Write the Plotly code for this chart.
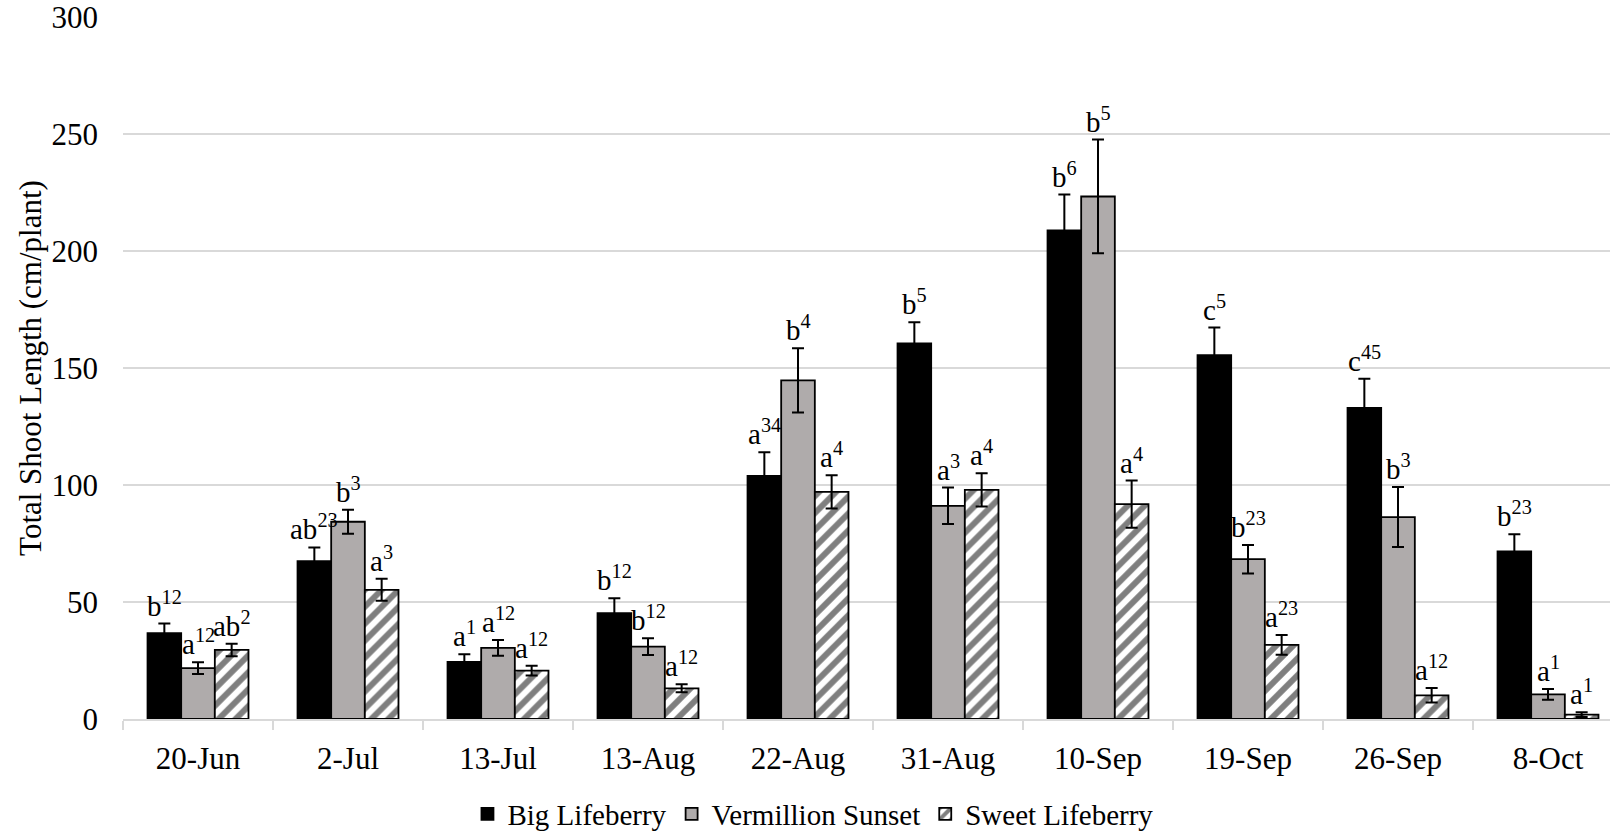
import plotly.graph_objects as go

dates = ["20-Jun", "2-Jul", "13-Jul", "13-Aug", "22-Aug", "31-Aug", "10-Sep", "19-Sep", "26-Sep", "8-Oct"]

big_mean = [36.7, 67.5, 24.4, 45.2, 103.9, 160.5, 208.8, 155.5, 133.0, 71.6]
big_err = [4.1, 5.8, 3.3, 6.4, 10.1, 9.1, 15.3, 11.8, 12.4, 7.4]
big_lab = ["b<sup>12</sup>", "ab<sup>23</sup>", "a<sup>1</sup>", "b<sup>12</sup>", "a<sup>34</sup>",
           "b<sup>5</sup>", "b<sup>6</sup>", "c<sup>5</sup>", "c<sup>45</sup>", "b<sup>23</sup>"]

ver_mean = [21.7, 84.3, 30.4, 30.9, 144.7, 91.1, 223.3, 68.3, 86.3, 10.5]
ver_err = [2.5, 5.1, 3.4, 3.6, 13.7, 7.8, 24.3, 6.1, 12.8, 2.3]
ver_lab = ["a<sup>12</sup>", "b<sup>3</sup>", "a<sup>12</sup>", "b<sup>12</sup>", "b<sup>4</sup>",
           "a<sup>3</sup>", "b<sup>5</sup>", "b<sup>23</sup>", "b<sup>3</sup>", "a<sup>1</sup>"]

swe_mean = [29.5, 55.2, 20.7, 13.1, 97.1, 97.9, 91.8, 31.7, 10.1, 1.9]
swe_err = [2.7, 4.7, 2.1, 1.7, 7.1, 7.1, 10.1, 4.2, 3.1, 1.0]
swe_lab = ["ab<sup>2</sup>", "a<sup>3</sup>", "a<sup>12</sup>", "a<sup>12</sup>", "a<sup>4</sup>",
           "a<sup>4</sup>", "a<sup>4</sup>", "a<sup>23</sup>", "a<sup>12</sup>", "a<sup>1</sup>"]

series = [
    ("Big Lifeberry", big_mean, big_err, big_lab, "#000000", None),
    ("Vermillion Sunset", ver_mean, ver_err, ver_lab, "#AFABAB", None),
    ("Sweet Lifeberry", swe_mean, swe_err, swe_lab, "#FFFFFF", "/"),
]

FONT = "Liberation Serif"
FS = 31
BARGAP = 0.327

fig = go.Figure()
for name, m, e, lab, col, pat in series:
    marker = dict(color=col, line=dict(color="#000000", width=1.8))
    if pat:
        marker["pattern"] = dict(shape=pat, fgcolor="#000000", bgcolor="#FFFFFF",
                                 size=12, solidity=0.5, fillmode="overlay")
    fig.add_trace(go.Bar(
        name=name, x=dates, y=m, marker=marker,
        error_y=dict(type="data", array=e, visible=True, color="#000000",
                     thickness=2, width=6),
    ))

bw = (1 - BARGAP) / 3
annotations = []
for j, (name, m, e, lab, col, pat) in enumerate(series):
    for i in range(len(dates)):
        annotations.append(dict(
            x=i + (j - 1) * bw, y=m[i] + e[i], xref="x", yref="y",
            text=lab[i], showarrow=False, yanchor="bottom", xanchor="center",
            yshift=0, font=dict(family=FONT, size=29, color="#000000"),
        ))

fig.update_layout(
    width=1610, height=834,
    margin=dict(l=123, r=0, t=17, b=115, autoexpand=False),
    barmode="group", bargap=BARGAP, bargroupgap=0,
    plot_bgcolor="#FFFFFF", paper_bgcolor="#FFFFFF",
    font=dict(family=FONT, size=FS, color="#000000"),
    showlegend=True,
    legend=dict(orientation="h", x=0.464, xanchor="center",
                yref="container", y=0.024, yanchor="middle",
                font=dict(family=FONT, size=29, color="#000000"),
                itemwidth=30, traceorder="normal"),
    annotations=annotations,
)
fig.update_xaxes(
    type="category", range=[-0.5, 9.4133], automargin=False,
    showline=True, linecolor="#D9D9D9", linewidth=1.5,
    ticks="outside", tickson="boundaries", ticklen=9, tickcolor="#D9D9D9", tickwidth=1.5,
    ticklabelstandoff=11,
    tickfont=dict(family=FONT, size=FS, color="#000000"),
    showgrid=False,
)
fig.update_yaxes(
    range=[0, 300], dtick=50, tick0=0, automargin=False,
    showgrid=True, gridcolor="#D9D9D9", gridwidth=1.5,
    zeroline=False, showline=False, ticks="",
    ticklabelstandoff=24, ticklabeloverflow="allow",
    tickfont=dict(family=FONT, size=FS, color="#000000"),
    title=dict(text="Total Shoot Length (cm/plant)", standoff=0,
               font=dict(family=FONT, size=FS, color="#000000")),
)

fig.write_html("out.html", config={"displayModeBar": False},
               post_script="document.body.style.margin='0';document.body.style.overflow='hidden';")
